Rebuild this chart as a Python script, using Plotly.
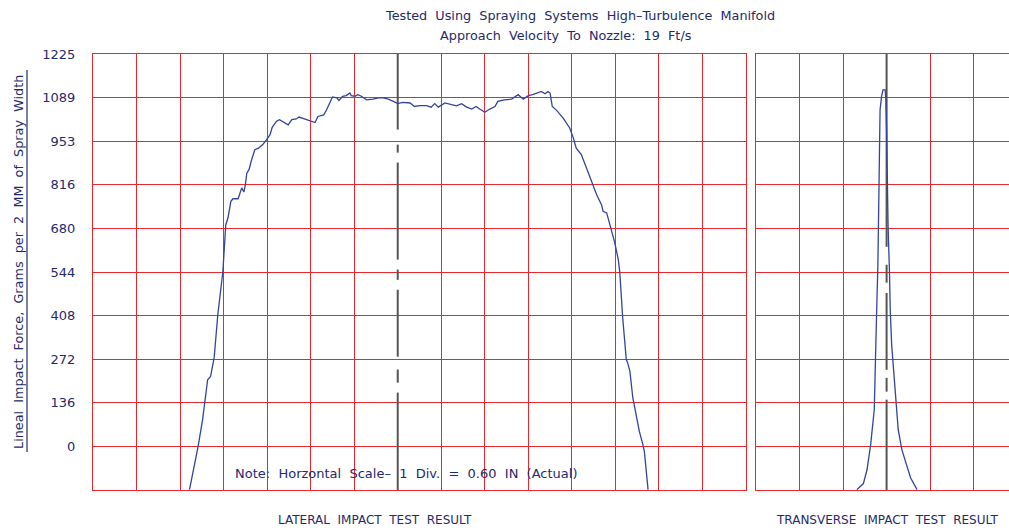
import plotly.graph_objects as go

# ---------------- data (x in inches from spray centre, y in grams per 2 mm) -------------
lateral_x = [-2.87, -2.75, -2.69, -2.62, -2.58, -2.53, -2.48, -2.41, -2.37, -2.34, -2.30, -2.27,
             -2.20, -2.16, -2.15, -2.12, -2.10, -2.08, -2.05, -2.02, -1.97, -1.92, -1.86, -1.81,
             -1.76, -1.73, -1.67, -1.63, -1.56, -1.51, -1.46, -1.40, -1.36, -1.28, -1.19, -1.14,
             -1.10, -1.02, -0.98, -0.94, -0.90, -0.84, -0.81, -0.76, -0.71, -0.66, -0.64, -0.59,
             -0.55, -0.50, -0.43, -0.34, -0.27, -0.20, -0.13, -0.06, 0.00, 0.07, 0.17, 0.23,
             0.30, 0.40, 0.46, 0.51, 0.56, 0.65, 0.72, 0.81, 0.88, 0.95, 1.02, 1.08, 1.13, 1.20,
             1.27, 1.34, 1.38, 1.47, 1.57, 1.66, 1.73, 1.80, 1.86, 1.93, 1.98, 2.03, 2.07, 2.10,
             2.13, 2.19, 2.28, 2.37, 2.42, 2.46, 2.53, 2.62, 2.69, 2.74, 2.81, 2.83, 2.88, 2.94,
             2.99, 3.04, 3.06, 3.10, 3.15, 3.17, 3.20, 3.24, 3.29, 3.33, 3.38, 3.40, 3.45]
lateral_y = [-135, 2, 83, 208, 218, 277, 411, 546, 692, 713, 765, 773,
             773, 796, 807, 794, 817, 853, 864, 890, 926, 931, 942, 957,
             973, 996, 1015, 1020, 1010, 1004, 1020, 1022, 1028, 1022, 1015, 1011,
             1030, 1035, 1051, 1072, 1091, 1088, 1080, 1093, 1095, 1103, 1095, 1093,
             1098, 1093, 1082, 1084, 1088, 1088, 1084, 1077, 1070, 1074, 1072, 1061,
             1064, 1064, 1059, 1070, 1059, 1072, 1067, 1063, 1070, 1059, 1053, 1061, 1053, 1043,
             1053, 1061, 1077, 1082, 1084, 1098, 1084, 1095, 1098, 1103, 1108, 1101, 1108, 1103,
             1061, 1049, 1025, 994, 963, 931, 911, 858, 817, 786, 754, 734, 729, 676,
             637, 583, 545, 403, 271, 260, 234, 152, 89, 47, 5, -17, -135]

transverse_x = [-0.41, -0.32, -0.27, -0.22, -0.17, -0.16, -0.14, -0.12, -0.11, -0.10, -0.09,
                -0.07, -0.05, -0.02, -0.01, 0.00, 0.01, 0.02, 0.04, 0.05, 0.07, 0.10, 0.13,
                0.16, 0.21, 0.27, 0.33, 0.42]
transverse_y = [-135, -116, -73, 5, 115, 239, 396, 567, 723, 926, 1051,
                1092, 1113, 1113, 1082, 989, 833, 692, 542, 427, 317, 224, 146,
                52, -10, -57, -98, -135]

y_tick_vals = [0, 136.1, 272.2, 408.3, 544.4, 680.5, 816.6, 952.7, 1088.8, 1224.9]
y_tick_text = ["0", "136", "272", "408", "544", "680", "816", "953", "1089", "1225"]
y_range = [-136.1, 1224.9]
div_in = 0.60  # one horizontal division, inches

# centre-line dash segments (top, bottom) in grams
lateral_centre = [[1225, 989], [942, 917], [886, 583], [552, 520], [489, 280], [240, 199], [168, -136]]
transverse_centre = [[1225, 623], [567, 511], [479, 239], [214, 171], [146, -136]]

# ---------------- styling -------------
RED = "#e8282e"
BLUE = "#33449a"
NAVY = "#1f2a6a"
GREY = "#555555"
FONT = "DejaVu Sans"

W, H = 1009, 530
L, R, T, B = 93, 0, 54, 40
pw, ph = W - L - R, H - T - B


def px_x(px):
    return (px - L) / pw


def px_y(py):
    return (H - B - py) / ph


def seg_trace(segs, xa, ya):
    xs, ys = [], []
    for top, bot in segs:
        xs += [0, 0, None]
        ys += [top, bot, None]
    return go.Scatter(x=xs, y=ys, mode="lines", xaxis=xa, yaxis=ya,
                      line=dict(color=GREY, width=2), hoverinfo="skip", showlegend=False)


fig = go.Figure()
fig.add_trace(seg_trace(lateral_centre, "x", "y"))
fig.add_trace(seg_trace(transverse_centre, "x2", "y2"))
fig.add_trace(go.Scatter(x=lateral_x, y=lateral_y, mode="lines", xaxis="x", yaxis="y",
                         line=dict(color=BLUE, width=1.3), showlegend=False))
fig.add_trace(go.Scatter(x=transverse_x, y=transverse_y, mode="lines", xaxis="x2", yaxis="y2",
                         line=dict(color=BLUE, width=1.3), showlegend=False))

left_end = px_x(746)
right_start = px_x(756)
div_px = (746 - L) / 15
right_span_div = (W - 756) / div_px

left_grid_x = [round(k * div_in, 2) for k in range(-7, 9) if k != 0]
right_grid_x = [round(k * div_in, 2) for k in range(-3, 3) if k != 0]

grid = dict(showgrid=True, gridcolor=RED, gridwidth=1.3, zeroline=False,
            showline=True, linecolor=RED, linewidth=1.3, ticks="", showticklabels=False,
            fixedrange=True)

fig.update_layout(
    width=W, height=H,
    margin=dict(l=L, r=R, t=T, b=B),
    paper_bgcolor="white", plot_bgcolor="white",
    xaxis=dict(domain=[0, left_end], range=[-7 * div_in, 8 * div_in], tickvals=left_grid_x,
               mirror=True, anchor="y", **grid),
    yaxis=dict(domain=[0, 1], range=y_range, tickvals=y_tick_vals, ticktext=y_tick_text,
               showgrid=True, gridcolor=RED, gridwidth=1.3, zeroline=False,
               showline=True, linecolor=RED, linewidth=1.3, mirror=True, ticks="",
               showticklabels=True, ticklabelstandoff=14,
               tickfont=dict(family=FONT, size=13, color=NAVY), anchor="x"),
    xaxis2=dict(domain=[right_start, 1], range=[-3 * div_in, (right_span_div - 3) * div_in],
                tickvals=right_grid_x, mirror=True, anchor="y2", **grid),
    yaxis2=dict(domain=[0, 1], range=y_range, tickvals=y_tick_vals,
                showgrid=True, gridcolor=RED, gridwidth=1.3, zeroline=False,
                showline=True, linecolor=RED, linewidth=1.3, mirror=False, ticks="",
                showticklabels=False, anchor="x2"),
    showlegend=False,
)

ann = [
    dict(text="Tested  Using  Spraying  Systems  High\u2013Turbulence  Manifold",
         x=px_x(580), y=px_y(15), size=12.8),
    dict(text="Approach  Velocity  To  Nozzle:  19  Ft/s", x=px_x(566), y=px_y(36), size=12.8),
    dict(text="LATERAL  IMPACT  TEST  RESULT", x=px_x(375), y=px_y(520), size=12),
    dict(text="TRANSVERSE  IMPACT  TEST  RESULT", x=px_x(887), y=px_y(520), size=12),
    dict(text="Note:  Horzontal  Scale\u2013  1  Div.  =  0.60  IN  (Actual)",
         x=px_x(406), y=px_y(473), size=13),
]
for a in ann:
    fig.add_annotation(text=a["text"], x=a["x"], y=a["y"], xref="paper", yref="paper",
                       showarrow=False, xanchor="center", yanchor="middle",
                       font=dict(family=FONT, size=a["size"], color=NAVY))

fig.add_annotation(text="Lineal  Impact  Force,  Grams  per  2  MM  of  Spray  Width",
                   x=px_x(18), y=px_y(262), xref="paper", yref="paper", textangle=-90,
                   showarrow=False, xanchor="center", yanchor="middle",
                   font=dict(family=FONT, size=12.8, color=NAVY))
fig.add_shape(type="line", xref="paper", yref="paper", x0=px_x(27), x1=px_x(27),
              y0=px_y(70), y1=px_y(452), line=dict(color=NAVY, width=1.2))

fig.write_html("out.html")
